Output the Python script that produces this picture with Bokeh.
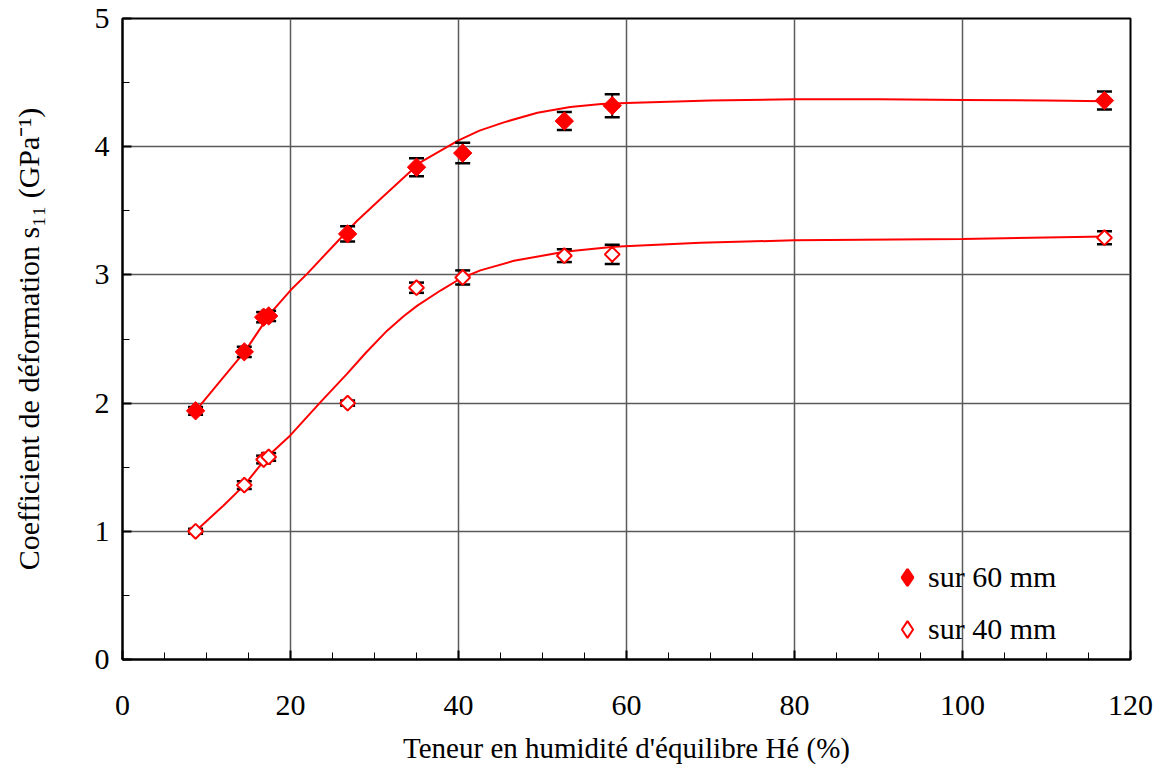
from bokeh.plotting import figure
from bokeh.models import Range1d, Legend, LegendItem, FixedTicker
from bokeh.embed import file_html
from bokeh.resources import INLINE
import math

# ---- data ----
humidity = [8.7, 14.5, 16.8, 17.4, 26.8, 35.0, 40.5, 52.6, 58.3, 116.9]
s11_60 = [1.94, 2.40, 2.67, 2.68, 3.32, 3.84, 3.95, 4.20, 4.32, 4.36]
err_60 = [0.03, 0.04, 0.04, 0.04, 0.06, 0.07, 0.08, 0.07, 0.09, 0.07]
s11_40 = [1.00, 1.36, 1.56, 1.58, 2.00, 2.90, 2.98, 3.15, 3.16, 3.29]
err_40 = [0.02, 0.03, 0.03, 0.03, 0.02, 0.04, 0.055, 0.05, 0.075, 0.05]

# fitted curves
fit60_x = [8.7, 12, 14.6, 17.6, 20, 22, 25, 27.9, 31, 35.5, 40, 42.5, 45.4, 49.4, 53.3, 57, 60, 70, 80, 90, 100, 110, 117]
fit60_y = [1.94, 2.20, 2.405, 2.70, 2.88, 3.01, 3.22, 3.42, 3.61, 3.88, 4.05, 4.125, 4.19, 4.265, 4.31, 4.334, 4.34, 4.36, 4.37, 4.37, 4.365, 4.36, 4.355]
fit40_x = [8.7, 12, 14.5, 17.2, 20, 23.6, 26.75, 29, 31.5, 33.5, 35.1, 37.9, 40.2, 42.6, 46.6, 52.6, 58.5, 68.8, 80, 100, 117]
fit40_y = [1.0, 1.2, 1.36, 1.58, 1.75, 2.01, 2.23, 2.395, 2.565, 2.68, 2.76, 2.88, 2.97, 3.035, 3.11, 3.18, 3.22, 3.25, 3.27, 3.28, 3.30]

x_ticks = [0, 20, 40, 60, 80, 100, 120]
y_ticks = [0, 1, 2, 3, 4, 5]
legend_labels = ["sur 60 mm", "sur 40 mm"]

FONT = "Liberation Serif"
RED = "#ff0000"

p = figure(width=1164, height=772, output_backend="svg", toolbar_location=None,
           x_range=Range1d(0, 120), y_range=Range1d(0, 5),
           min_border_left=122, min_border_right=34, min_border_top=18, min_border_bottom=113)
p.background_fill_color = "white"
p.border_fill_color = "white"
p.outline_line_color = "black"
p.outline_line_width = 2

# grid
p.xgrid.ticker = FixedTicker(ticks=x_ticks)
p.ygrid.ticker = FixedTicker(ticks=y_ticks)
for g in (p.xgrid[0], p.ygrid[0]):
    g.grid_line_color = "#5a5a5a"
    g.grid_line_width = 1.5

# axes
p.xaxis.ticker = FixedTicker(ticks=x_ticks, minor_ticks=list(range(0, 121, 5)))
p.yaxis.ticker = FixedTicker(ticks=y_ticks, minor_ticks=[i * 0.5 for i in range(11)])
for ax in (p.xaxis[0], p.yaxis[0]):
    ax.axis_line_color = "black"
    ax.axis_line_width = 2
    ax.major_tick_in = 9
    ax.major_tick_out = 0
    ax.minor_tick_in = 7
    ax.minor_tick_out = 0
    ax.major_tick_line_color = "black"
    ax.major_tick_line_width = 2
    ax.minor_tick_line_color = "black"
    ax.minor_tick_line_width = 1
    ax.major_label_text_font = FONT
    ax.major_label_text_font_size = "30px"
    ax.major_label_text_color = "black"
    ax.axis_label_text_font = FONT
    ax.axis_label_text_font_style = "normal"
    ax.axis_label_text_color = "black"

p.xaxis.axis_label = "Teneur en humidité d'équilibre Hé (%)"
p.xaxis.axis_label_text_font_size = "29px"
p.xaxis.major_label_standoff = 36
p.xaxis.axis_label_standoff = 14
p.yaxis.axis_label = "Coefficient de déformation s₁₁ (GPa⁻¹)"
p.yaxis.axis_label_text_font_size = "30px"
p.yaxis.major_label_standoff = 13
p.yaxis.axis_label_standoff = 47

# fitted curves
p.line(fit60_x, fit60_y, line_color=RED, line_width=2)
p.line(fit40_x, fit40_y, line_color=RED, line_width=2)

# error bars
for ys, es in ((s11_60, err_60), (s11_40, err_40)):
    lo = [y - e for y, e in zip(ys, es)]
    hi = [y + e for y, e in zip(ys, es)]
    p.segment(humidity, lo, humidity, hi, line_color="black", line_width=2)
    p.scatter(humidity, lo, marker="dash", size=15, line_color="black", line_width=2.5)
    p.scatter(humidity, hi, marker="dash", size=15, line_color="black", line_width=2.5)

# markers
r60 = p.scatter(humidity, s11_60, marker="square", angle=math.pi / 4, size=13,
                fill_color=RED, line_color=RED, line_width=1)
r40 = p.scatter(humidity, s11_40, marker="square", angle=math.pi / 4, size=10.5,
                fill_color="white", line_color=RED, line_width=2)

# legend-only glyphs (diamond shapes, one invisible NaN point each)
nan = float("nan")
l60 = p.scatter([nan], [nan], marker="diamond", fill_color=RED, line_color=RED, line_width=2.5)
l40 = p.scatter([nan], [nan], marker="diamond", fill_color="white", line_color=RED, line_width=2)

legend = Legend(items=[LegendItem(label=legend_labels[0], renderers=[l60]),
                       LegendItem(label=legend_labels[1], renderers=[l40])],
                location=(764, 9), orientation="vertical")
legend.label_text_font = FONT
legend.label_text_font_size = "30px"
legend.label_text_color = "black"
legend.glyph_width = 42
legend.glyph_height = 42
legend.label_standoff = 0
legend.spacing = 10
legend.padding = 0
legend.margin = 0
legend.border_line_alpha = 0
legend.background_fill_alpha = 0
p.add_layout(legend, "center")

open("out.html", "w").write(file_html(p, INLINE))
